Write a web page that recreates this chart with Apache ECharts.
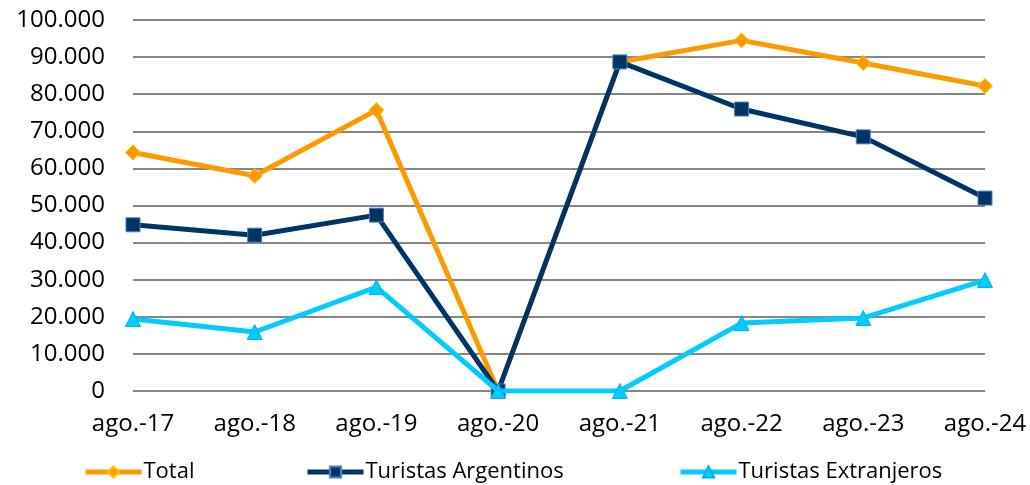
<!DOCTYPE html>
<html><head><meta charset="utf-8">
<script src="https://cdn.jsdelivr.net/npm/echarts@6/dist/echarts.min.js"></script>
<style>html,body{margin:0;padding:0;background:#fff}#c{width:1030px;height:485px}</style>
</head><body><div id="c"></div>
<script>
const categories = ['ago.-17','ago.-18','ago.-19','ago.-20','ago.-21','ago.-22','ago.-23','ago.-24'];
const total = [64300, 58000, 75700, 0, 88700, 94500, 88400, 82200];
const argentinos = [44800, 42000, 47400, 0, 88700, 76000, 68500, 52000];
const extranjeros = [19400, 15900, 28000, 0, 0, 18300, 19700, 29900];
const yTicks = [0,10000,20000,30000,40000,50000,60000,70000,80000,90000,100000];

const font = "'Open Sans', 'Liberation Sans', sans-serif";
const fmt = v => v === 0 ? '0' : String(v).replace(/\B(?=(\d{3})+(?!\d))/g, '.');
const chart = echarts.init(document.getElementById('c'), null, {renderer:'canvas'});
const legendBase = {top: 456, itemWidth: 56, itemHeight: 14, itemGap: 0,
  lineStyle: {width: 5},
  textStyle: {fontFamily: font, fontSize: 22, color: '#000', padding:[0,0,0,-3]}};
chart.setOption({
  animation: false,
  grid: {left: 133, right: 45, top: 20, bottom: 94, containLabel: false},
  legend: [
    Object.assign({left: 78, data: ['Total']}, legendBase),
    Object.assign({left: 300, data: ['Turistas Argentinos']}, legendBase),
    Object.assign({left: 673, data: ['Turistas Extranjeros']}, legendBase)
  ],
  xAxis: {type: 'category', data: categories, boundaryGap: false,
    axisLine: {lineStyle: {color: '#868686', width: 1}},
    axisTick: {show: false},
    axisLabel: {fontFamily: font, fontSize: 24, color: '#000', margin: 21}},
  yAxis: {type: 'value', min: yTicks[0], max: yTicks[yTicks.length-1], interval: 10000,
    axisLine: {show: false}, axisTick: {show: false},
    splitLine: {lineStyle: {color: '#868686', width: 2}},
    axisLabel: {fontFamily: font, fontSize: 24, color: '#000', margin: 28, formatter: fmt}},
  series: [
    {name: 'Total', type: 'line', data: total, symbol: 'diamond', symbolSize: 15,
     lineStyle: {color: '#FF9900', width: 5}, itemStyle: {color: '#FF9900', borderColor: '#FFC000', borderWidth: 1}, z: 2},
    {name: 'Turistas Argentinos', type: 'line', data: argentinos, symbol: 'rect', symbolSize: 14,
     lineStyle: {color: '#003366', width: 5}, itemStyle: {color: '#003366', borderColor: '#4F81BD', borderWidth: 1}, z: 3},
    {name: 'Turistas Extranjeros', type: 'line', data: extranjeros, symbol: 'triangle', symbolSize: 15,
     lineStyle: {color: '#00CCFF', width: 5}, itemStyle: {color: '#00CCFF', borderColor: '#00B0F0', borderWidth: 1}, z: 4}
  ]
});
</script></body></html>
